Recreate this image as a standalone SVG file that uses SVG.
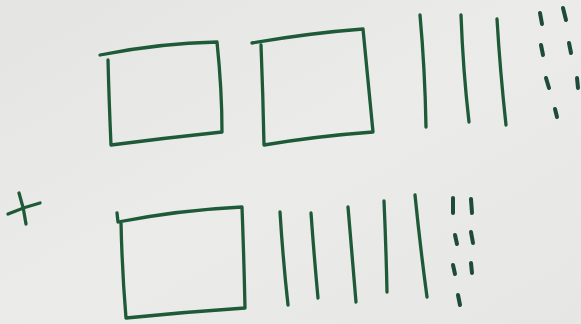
<svg xmlns="http://www.w3.org/2000/svg" width="581" height="324" viewBox="0 0 581 324">
<defs>
<linearGradient id="bg" x1="0" y1="0" x2="1" y2="1">
<stop offset="0" stop-color="#e4e4e2"/>
<stop offset="0.5" stop-color="#ebebe9"/>
<stop offset="1" stop-color="#e6e6e4"/>
</linearGradient>
<style>
.ink{fill:none;stroke:#1e5a38;stroke-width:3.3;stroke-linecap:round;stroke-linejoin:round}
.dot{fill:none;stroke:#1e4a38;stroke-width:4;stroke-linecap:round}
</style>
</defs>
<rect width="581" height="324" fill="url(#bg)"/>
<g id="plus" class="ink">
<path d="M8 214 Q24 207 40 203"/>
<path d="M19 193 Q24 208 26 224"/>
</g>
<g id="hundred-1" class="ink">
<path d="M100 55 Q160 43 217 42 Q222 90 222 132 Q165 138 111 145 Q109 100 108 60"/>
</g>
<g id="hundred-2" class="ink">
<path d="M252 43 Q310 33 363 29 Q368 80 373 132 Q318 136 264 145 Q263 95 261 45"/>
</g>
<g id="tens-top" class="ink">
<path d="M420 15 Q425 70 426 127"/>
<path d="M461 15 Q463 70 469 122"/>
<path d="M497 19 Q500 70 506 125"/>
</g>
<g id="ones-top" class="dot">
<path d="M540 13 L542 24"/>
<path d="M563 8 L566 20"/>
<path d="M541 45 L543 55"/>
<path d="M569 43 L571 53"/>
<path d="M546 78 L549 88"/>
<path d="M577 78 L578 88"/>
<path d="M555 109 L557 117"/>
</g>
<g id="hundred-3" class="ink">
<path d="M117 213 L118 222 Q180 210 242 207 Q244 260 245 308 Q185 312 126 318 Q122 270 121 222"/>
</g>
<g id="tens-bottom" class="ink">
<path d="M280 212 Q283 260 288 305"/>
<path d="M311 213 Q314 255 318 298"/>
<path d="M348 207 Q352 255 356 302"/>
<path d="M384 201 Q386 245 387 292"/>
<path d="M415 195 Q420 245 427 297"/>
</g>
<g id="ones-bottom" class="dot">
<path d="M453 198 L453 213"/>
<path d="M471 199 L472 213"/>
<path d="M455 235 L457 244"/>
<path d="M471 232 L473 243"/>
<path d="M453 265 L455 274"/>
<path d="M471 263 L472 273"/>
<path d="M458 295 L460 305"/>
</g>
</svg>
